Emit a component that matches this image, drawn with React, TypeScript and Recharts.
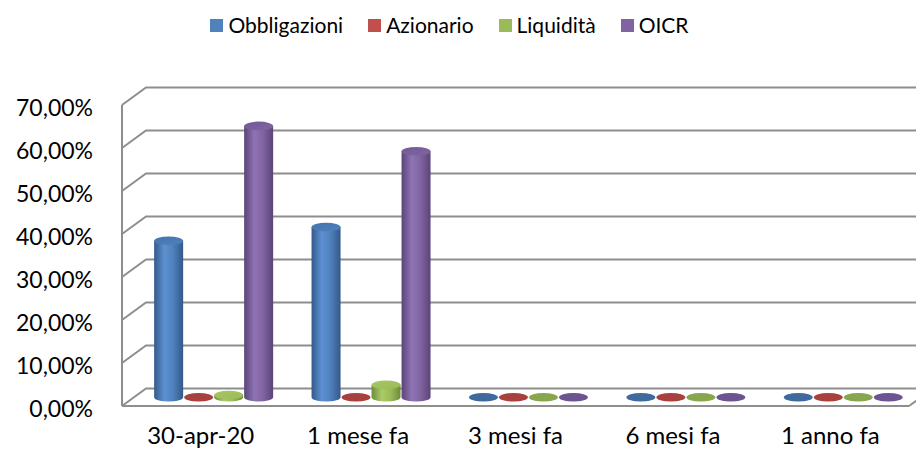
import { BarChart, Bar, XAxis, YAxis, CartesianGrid, Legend } from 'recharts';

const categories = ['30-apr-20', '1 mese fa', '3 mesi fa', '6 mesi fa', '1 anno fa'];
const obbligazioni = [0.364, 0.396, 0, 0, 0];
const azionario = [0, 0, 0, 0, 0];
const liquidita = [0.005, 0.029, 0, 0, 0];
const oicr = [0.631, 0.572, 0, 0, 0];
const yTicks = [0, 0.1, 0.2, 0.3, 0.4, 0.5, 0.6, 0.7];

const data = categories.map((name, i) => ({
  name,
  obbligazioni: obbligazioni[i],
  azionario: azionario[i],
  liquidita: liquidita[i],
  oicr: oicr[i],
}));

// colours of each series: base, shaded edge, highlight, top cap, flat disc for zero values
const series = [
  { key: 'obbligazioni', name: 'Obbligazioni', color: '#4F81BD', dark: '#34598a', light: '#5d91d2', top: '#4474b0', flat: '#3e6a9e' },
  { key: 'azionario', name: 'Azionario', color: '#C0504D', dark: '#8c3936', light: '#d05e5a', top: '#b04845', flat: '#a8403e' },
  { key: 'liquidita', name: 'Liquidità', color: '#9BBB59', dark: '#6f8a3c', light: '#aacb65', top: '#a6c762', flat: '#88a64d' },
  { key: 'oicr', name: 'OICR', color: '#8064A2', dark: '#5a4577', light: '#8f73b4', top: '#725a96', flat: '#6c5490' },
];
const seriesOrder = series.map((s) => s.name);

const FONT = 'Lato, "Open Sans", sans-serif';
const GRID = '#8e8e8e';
const DEPTH_X = 24;
const DEPTH_Y = 17.5;

const fmt = (v: number) => (v * 100).toFixed(2).replace('.', ',') + '%';

function makeCylinder(s: (typeof series)[number]) {
  return (p: any) => {
    const { x, y, width, height } = p;
    const rx = width / 2;
    const ry = 4.3;
    const cx = x + rx + DEPTH_X / 2;
    const base = y + height - DEPTH_Y / 2;
    const top = y - DEPTH_Y / 2;
    if (!(height > 1)) {
      return <ellipse cx={cx} cy={base} rx={rx} ry={ry} fill={s.flat} />;
    }
    return (
      <g>
        <path
          d={`M${cx - rx},${top} L${cx - rx},${base} A${rx},${ry} 0 0 0 ${cx + rx},${base} L${cx + rx},${top} Z`}
          fill={`url(#body-${s.key})`}
        />
        <ellipse cx={cx} cy={top} rx={rx} ry={ry} fill={`url(#top-${s.key})`} />
      </g>
    );
  };
}

// back wall gridlines, with the slanted side-wall segment
const wallLine = (p: any) => {
  const { x1, x2, y1 } = p;
  const bottom = p.y + p.height;
  const isFloor = Math.abs(y1 - bottom) < 1;
  return (
    <g key={p.key}>
      <polyline
        points={`${x1},${y1} ${x1 + DEPTH_X},${y1 - DEPTH_Y} ${x2 + 60},${y1 - DEPTH_Y}`}
        fill="none"
        stroke={GRID}
        strokeWidth={2}
      />
      {isFloor && (
        <line x1={x2} y1={y1} x2={x2 + DEPTH_X} y2={y1 - DEPTH_Y} stroke={GRID} strokeWidth={2} />
      )}
    </g>
  );
};

const YTick = ({ x, y, payload }: any) => (
  <text x={x} y={y + 3} dy="0.355em" textAnchor="end" fill="#000" fontSize={23} fontFamily={FONT}>
    {fmt(payload.value)}
  </text>
);

const renderLegend = (props: any) => {
  const items = [...props.payload].sort(
    (a: any, b: any) => seriesOrder.indexOf(a.value) - seriesOrder.indexOf(b.value)
  );
  return (
    <div style={{ height: 105, boxSizing: 'border-box', paddingTop: 13 }}>
      <div
        style={{
          display: 'flex',
          justifyContent: 'center',
          gap: 25,
          fontFamily: FONT,
          fontSize: 21,
          lineHeight: '24px',
          marginRight: 10,
        }}
      >
        {items.map((item: any) => (
          <span key={item.value} style={{ display: 'flex', alignItems: 'center' }}>
            <span style={{ width: 13, height: 13, background: item.color, marginRight: 5 }} />
            {item.value}
          </span>
        ))}
      </div>
    </div>
  );
};

export default function App() {
  return (
    <div style={{ position: 'absolute', left: 0, top: 0, background: '#fff' }}>
      <BarChart
        width={916}
        height={454}
        data={data}
        margin={{ top: 0, right: 7, bottom: 0, left: 0 }}
        barCategoryGap="12.8%"
        barGap={1}
      >
        <defs>
          {series.map((s) => (
            <linearGradient key={'b' + s.key} id={`body-${s.key}`} x1="0" y1="0" x2="1" y2="0">
              <stop offset="0%" stopColor={s.dark} />
              <stop offset="35%" stopColor={s.light} />
              <stop offset="65%" stopColor={s.color} />
              <stop offset="100%" stopColor={s.dark} />
            </linearGradient>
          ))}
          {series.map((s) => (
            <linearGradient key={'t' + s.key} id={`top-${s.key}`} x1="0" y1="0" x2="1" y2="1">
              <stop offset="0%" stopColor={s.top} />
              <stop offset="100%" stopColor={s.color} />
            </linearGradient>
          ))}
        </defs>
        <CartesianGrid horizontal={wallLine} vertical={false} />
        <Legend verticalAlign="top" align="center" content={renderLegend} />
        <XAxis
          dataKey="name"
          tickLine={false}
          tickSize={0}
          tickMargin={21}
          height={48}
          axisLine={{ stroke: GRID, strokeWidth: 2 }}
          tick={{ fill: '#000', fontSize: 24, fontFamily: FONT }}
          interval={0}
        />
        <YAxis
          type="number"
          domain={[0, 0.7]}
          ticks={yTicks}
          width={122}
          tickLine={false}
          tickSize={0}
          tickMargin={29}
          axisLine={{ stroke: GRID, strokeWidth: 2 }}
          tick={<YTick />}
        />
        {series.map((s) => (
          <Bar
            key={s.key}
            dataKey={s.key}
            name={s.name}
            fill={s.color}
            shape={makeCylinder(s)}
            isAnimationActive={false}
          />
        ))}
      </BarChart>
    </div>
  );
}
